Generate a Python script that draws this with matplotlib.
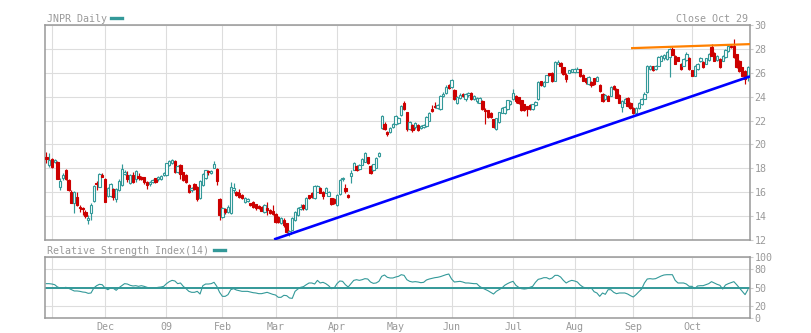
import matplotlib
matplotlib.use("Agg")
import matplotlib.pyplot as plt
from matplotlib.lines import Line2D
import numpy as np
import pandas as pd

# ---------------- data ----------------
holidays = ["2008-11-27", "2008-12-25", "2009-01-01", "2009-01-19", "2009-02-16",
            "2009-04-10", "2009-05-25", "2009-07-03", "2009-09-07"]
dates = pd.bdate_range("2008-10-30", "2009-10-29", freq="C", holidays=holidays)

opens = [
    18.98, 18.28, 18.78, 18.56, 18.56, 16.41, 17.16, 17.86, 17.02, 16.04,
    15.12, 15.57, 14.79, 14.71, 14.37, 13.67, 14.23, 15.29, 16.80, 16.46,
    17.44, 17.08, 15.68, 15.68, 16.24, 15.40, 16.18, 16.60, 17.52, 17.44,
    16.80, 17.44, 17.08, 17.36, 17.30, 17.25, 16.83, 16.66, 16.88, 17.16,
    17.08, 17.08, 17.44, 17.44, 18.28, 18.47, 18.64, 17.72, 18.28, 17.66,
    17.46, 16.60, 16.18, 16.66, 16.40, 15.50, 16.60, 17.20, 17.80, 17.60,
    18.05, 17.95, 15.45, 13.90, 14.60, 14.35, 14.25, 16.20, 16.00, 15.90,
    15.75, 15.20, 15.24, 15.07, 15.20, 15.00, 14.85, 14.79, 14.37, 14.65,
    14.51, 14.40, 14.18, 13.95, 13.45, 13.67, 13.39, 12.50, 12.85, 13.70,
    14.10, 14.60, 14.95, 14.60, 15.75, 15.90, 15.50, 16.05, 16.35, 16.05,
    15.95, 15.70, 15.50, 15.45, 14.96, 15.86, 17.07, 16.36, 15.80, 17.35,
    17.90, 18.20, 17.95, 18.30, 18.53, 18.93, 18.20, 17.86, 18.06, 19.00,
    21.35, 21.72, 21.07, 21.07, 21.44, 21.72, 21.80, 22.50, 23.46, 22.70,
    21.29, 21.63, 21.44, 21.63, 21.35, 21.44, 21.58, 22.00, 22.98, 23.26,
    23.04, 22.93, 24.05, 24.30, 24.95, 24.80, 24.53, 23.46, 23.88, 24.25,
    23.77, 24.10, 24.34, 23.83, 23.60, 23.50, 23.63, 22.88, 22.85, 22.65,
    22.09, 21.30, 21.85, 22.65, 22.65, 22.95, 23.35, 23.77, 24.06, 23.95,
    23.69, 23.35, 23.21, 23.27, 22.93, 23.27, 23.80, 25.30, 24.90, 25.24,
    25.95, 26.00, 25.35, 26.73, 26.83, 26.45, 25.83, 26.00, 26.10, 26.05,
    26.10, 26.28, 25.83, 25.54, 25.06, 25.20, 25.54, 25.34, 24.97, 24.20,
    23.79, 24.07, 24.07, 24.91, 24.63, 24.12, 23.14, 23.50, 23.93, 23.50,
    23.08, 22.66, 23.08, 23.36, 23.84, 24.35, 26.31, 26.54, 26.31, 26.60,
    27.02, 27.20, 27.16, 27.30, 28.00, 27.44, 27.30, 26.74, 26.60, 27.07,
    27.24, 26.20, 25.75, 26.31, 26.96, 26.88, 26.74, 27.10, 28.14, 27.65,
    27.05, 27.16, 27.02, 27.30, 27.80, 28.28, 28.28, 27.58, 27.02, 26.45,
    26.17, 25.61,
]
highs = [
    19.34, 19.25, 18.84, 18.78, 18.64, 17.16, 17.58, 17.91, 17.08, 16.18,
    16.13, 15.99, 14.93, 14.79, 14.51, 14.09, 15.07, 16.60, 16.97, 17.58,
    17.58, 17.16, 16.46, 16.80, 16.32, 16.32, 17.08, 18.36, 17.86, 17.80,
    17.52, 17.72, 17.86, 17.58, 17.36, 17.30, 16.97, 16.97, 17.10, 17.22,
    17.39, 17.44, 17.66, 18.47, 18.70, 18.78, 18.70, 18.28, 18.36, 17.72,
    17.50, 16.65, 16.46, 16.80, 16.50, 17.00, 17.60, 17.90, 17.90, 17.90,
    18.65, 18.00, 15.50, 14.80, 14.70, 14.90, 16.85, 16.75, 16.10, 16.30,
    15.85, 15.60, 15.50, 15.10, 15.25, 15.05, 14.90, 14.85, 15.00, 15.20,
    14.60, 14.90, 14.25, 14.00, 13.95, 13.85, 13.45, 12.85, 13.90, 14.45,
    14.80, 15.05, 15.05, 15.60, 15.80, 16.00, 16.60, 16.60, 16.45, 16.10,
    16.45, 16.10, 15.55, 15.50, 15.85, 17.10, 17.30, 16.65, 15.85, 17.90,
    18.50, 18.25, 18.40, 18.85, 19.35, 18.98, 18.25, 18.40, 18.95, 19.35,
    22.45, 21.90, 21.15, 21.45, 21.80, 22.50, 22.30, 23.30, 23.60, 22.75,
    21.95, 21.70, 21.90, 21.75, 21.65, 21.70, 22.35, 22.70, 23.30, 23.54,
    23.35, 24.10, 24.35, 24.95, 25.05, 25.46, 24.60, 24.05, 24.30, 24.30,
    24.30, 24.40, 24.40, 24.10, 24.00, 23.95, 23.70, 23.05, 22.90, 22.70,
    22.15, 22.25, 22.75, 23.10, 23.20, 23.75, 23.70, 24.65, 24.10, 24.00,
    23.75, 23.40, 23.25, 23.35, 23.40, 23.60, 25.35, 25.35, 25.30, 25.85,
    26.00, 26.05, 26.95, 27.05, 26.90, 26.50, 26.00, 26.25, 26.35, 26.40,
    26.45, 26.35, 25.90, 25.60, 25.70, 25.30, 25.60, 25.75, 25.05, 24.30,
    24.20, 24.15, 24.91, 25.00, 24.70, 24.20, 23.75, 23.85, 24.00, 23.55,
    23.15, 23.15, 23.55, 23.90, 24.35, 26.65, 26.65, 26.60, 26.65, 27.44,
    27.50, 27.60, 27.80, 28.10, 28.14, 27.50, 27.35, 26.80, 27.20, 27.72,
    27.30, 26.25, 26.65, 26.80, 27.30, 26.95, 27.25, 27.65, 28.42, 27.72,
    27.45, 27.20, 27.50, 28.00, 28.30, 28.35, 28.79, 27.60, 27.05, 26.50,
    26.20, 26.60,
]
lows = [
    18.42, 18.14, 18.00, 18.42, 17.08, 16.18, 17.02, 17.02, 16.13, 15.07,
    14.23, 14.87, 14.37, 14.09, 13.81, 13.31, 13.67, 15.21, 16.18, 16.41,
    17.25, 15.15, 15.63, 15.57, 15.35, 15.21, 16.13, 16.55, 17.44, 16.88,
    16.69, 16.80, 16.88, 17.02, 17.02, 16.69, 16.24, 16.55, 16.80, 16.80,
    16.97, 17.02, 17.36, 17.36, 18.20, 18.36, 17.63, 17.58, 17.08, 16.95,
    16.75, 15.95, 16.04, 16.20, 15.30, 15.45, 16.50, 17.10, 17.45, 17.50,
    18.00, 16.60, 13.70, 13.85, 14.20, 14.30, 14.15, 15.95, 15.70, 15.55,
    15.40, 15.10, 15.15, 14.85, 14.65, 14.55, 14.60, 14.40, 14.30, 14.10,
    14.15, 14.10, 13.40, 13.45, 13.35, 13.10, 12.60, 12.35, 12.80, 13.60,
    14.00, 14.55, 14.50, 14.50, 15.45, 15.50, 15.45, 16.00, 15.90, 15.40,
    15.90, 15.65, 14.95, 15.00, 14.82, 15.80, 16.95, 15.94, 15.55, 16.80,
    17.85, 17.80, 17.90, 18.25, 18.50, 18.35, 17.55, 17.80, 18.00, 18.95,
    21.30, 21.20, 20.67, 20.95, 21.35, 21.65, 21.75, 22.40, 22.90, 21.10,
    21.20, 21.00, 21.30, 21.10, 21.30, 21.35, 21.50, 21.95, 22.70, 23.05,
    22.95, 22.85, 24.00, 24.20, 24.60, 24.70, 23.70, 23.40, 23.80, 23.95,
    23.60, 24.00, 23.70, 23.75, 23.50, 23.45, 22.90, 21.68, 22.20, 22.20,
    21.40, 21.20, 21.80, 22.60, 22.55, 22.90, 23.30, 23.70, 23.50, 23.40,
    22.80, 22.80, 22.37, 22.85, 22.85, 23.20, 23.75, 24.90, 24.85, 25.20,
    25.75, 25.25, 25.30, 26.70, 25.95, 25.85, 25.25, 25.95, 26.05, 26.00,
    26.05, 25.65, 25.30, 25.10, 25.00, 24.77, 25.00, 25.30, 24.40, 23.55,
    23.70, 23.60, 24.05, 24.55, 23.90, 23.45, 22.75, 23.45, 23.15, 22.95,
    22.55, 22.55, 23.00, 23.30, 23.80, 24.30, 26.20, 26.15, 26.25, 26.55,
    26.95, 27.10, 27.10, 25.62, 27.45, 26.70, 26.95, 26.20, 26.55, 27.00,
    26.25, 25.70, 25.70, 26.25, 26.90, 26.40, 26.70, 27.00, 27.40, 26.95,
    27.00, 26.40, 26.95, 27.20, 27.70, 28.05, 27.25, 26.40, 26.10, 25.70,
    25.05, 25.33,
]
closes = [
    18.75, 18.70, 18.08, 18.70, 17.10, 16.94, 17.44, 17.10, 16.18, 15.12,
    16.04, 14.93, 14.65, 14.59, 14.01, 13.87, 14.93, 16.52, 16.66, 17.52,
    17.30, 15.21, 16.32, 16.69, 15.57, 16.24, 16.97, 17.91, 17.72, 17.08,
    17.44, 16.88, 17.78, 17.22, 17.08, 16.88, 16.60, 16.88, 17.02, 16.88,
    17.30, 17.39, 17.58, 18.42, 18.64, 18.70, 17.72, 18.20, 17.52, 17.04,
    16.85, 16.04, 16.32, 16.27, 15.40, 16.90, 17.55, 17.85, 17.70, 17.80,
    18.40, 16.90, 14.10, 14.65, 14.35, 14.80, 16.40, 16.35, 15.80, 15.60,
    15.50, 15.50, 15.40, 14.93, 14.74, 14.65, 14.65, 14.45, 14.93, 14.51,
    14.23, 14.15, 13.48, 13.53, 13.84, 13.25, 12.70, 12.75, 13.80, 14.35,
    14.65, 14.75, 14.65, 15.50, 15.50, 15.60, 16.50, 16.50, 15.95, 15.65,
    16.35, 16.00, 15.05, 15.10, 15.80, 17.01, 17.20, 16.08, 15.60, 17.63,
    18.42, 17.90, 18.30, 18.76, 19.27, 18.42, 17.63, 18.34, 18.90, 19.27,
    22.36, 21.29, 20.87, 21.35, 21.72, 22.36, 22.20, 23.20, 22.98, 21.29,
    21.86, 21.21, 21.80, 21.24, 21.58, 21.63, 22.28, 22.65, 22.76, 23.12,
    23.27, 24.05, 24.25, 24.85, 24.73, 25.38, 23.82, 23.97, 24.16, 24.05,
    24.20, 24.34, 23.77, 24.05, 23.92, 23.90, 22.99, 22.82, 22.31, 22.31,
    21.47, 22.20, 22.70, 23.07, 23.13, 23.69, 23.63, 24.34, 23.63, 23.50,
    22.87, 22.87, 22.93, 22.93, 23.35, 23.55, 25.20, 24.95, 25.20, 25.80,
    25.85, 25.30, 26.87, 26.93, 26.60, 25.90, 25.50, 26.20, 26.30, 26.30,
    26.35, 25.71, 25.34, 25.20, 25.63, 24.97, 25.06, 25.63, 24.48, 23.63,
    24.12, 23.65, 24.77, 24.63, 23.93, 23.50, 23.65, 23.79, 23.22, 23.03,
    22.66, 23.08, 23.50, 23.84, 24.26, 26.60, 26.60, 26.25, 26.60, 27.30,
    27.44, 27.50, 27.72, 28.00, 27.52, 26.74, 27.02, 26.31, 27.16, 27.58,
    26.30, 25.77, 26.60, 26.74, 27.24, 26.45, 27.20, 27.58, 27.44, 27.02,
    27.40, 26.45, 27.44, 27.90, 28.25, 28.14, 27.30, 26.45, 26.17, 25.75,
    25.47, 26.45,
]
rsi = [
    56.3, 56.3, 55.7, 54.6, 50.8, 49.2, 49.2, 50.3, 48.6, 46.4,
    44.3, 44.3, 43.7, 42.6, 42.1, 40.4, 41.0, 49.2, 53.0, 55.2,
    54.6, 49.2, 46.4, 49.2, 48.6, 45.4, 49.7, 53.0, 56.3, 55.7,
    53.6, 52.5, 53.0, 51.9, 53.0, 51.9, 50.3, 49.2, 49.2, 49.2,
    50.3, 50.8, 51.9, 56.3, 59.6, 61.7, 60.7, 56.3, 57.4, 51.9,
    48.1, 43.7, 42.1, 42.1, 43.7, 39.3, 53.0, 55.7, 55.7, 56.3,
    58.5, 51.9, 42.1, 35.5, 35.5, 38.3, 46.4, 48.1, 45.9, 44.8,
    43.7, 43.7, 43.7, 42.6, 41.5, 41.0, 39.9, 39.9, 41.0, 42.1,
    40.4, 38.8, 37.7, 33.9, 33.9, 37.2, 36.6, 32.8, 32.2, 43.7,
    47.5, 50.3, 51.4, 54.6, 57.4, 57.4, 55.7, 61.7, 57.4, 58.5,
    56.3, 53.0, 48.1, 49.2, 56.3, 60.7, 60.1, 54.6, 50.8, 56.3,
    61.7, 62.8, 61.7, 62.8, 64.5, 63.9, 59.0, 56.8, 57.4, 60.1,
    68.3, 70.5, 66.7, 65.6, 65.6, 67.2, 68.3, 71.0, 69.9, 62.8,
    60.1, 59.0, 59.6, 59.0, 57.9, 58.5, 62.3, 63.9, 65.0, 66.1,
    66.7, 67.8, 69.4, 71.0, 72.1, 63.9, 59.0, 59.6, 60.1, 59.0,
    57.4, 57.4, 56.8, 56.3, 56.3, 51.9, 49.2, 47.0, 44.8, 42.1,
    39.3, 43.7, 46.4, 49.2, 53.6, 56.3, 58.5, 60.1, 53.6, 50.3,
    48.1, 47.5, 48.1, 50.3, 51.9, 58.5, 63.4, 64.5, 66.1, 66.1,
    63.9, 65.6, 69.9, 69.9, 67.2, 61.7, 57.4, 60.1, 61.7, 60.7,
    59.0, 54.1, 50.8, 49.2, 48.1, 49.2, 43.1, 41.0, 35.5, 41.0,
    38.8, 46.4, 46.4, 42.1, 39.9, 41.0, 41.0, 41.0, 39.3, 36.6,
    34.4, 38.3, 43.1, 47.5, 57.4, 63.9, 64.5, 63.9, 64.5, 66.7,
    68.9, 70.5, 71.0, 71.0, 71.0, 61.7, 57.4, 57.4, 57.4, 55.7,
    51.9, 51.9, 48.1, 52.5, 53.0, 53.0, 54.6, 56.3, 59.6, 57.4,
    55.2, 53.6, 47.5, 54.1, 56.3, 57.9, 59.6, 54.6, 49.2, 43.7,
    38.3, 46.4,
]

# trend lines (trading-day index, price)
support_x = [81.5, 251.8]
support_y = [12.05, 25.70]
resist_x = [209.2, 251.8]
resist_y = [28.06, 28.40]

price_ticks = list(range(12, 31, 2))
rsi_ticks = [0, 20, 50, 80, 100]
title_text = "JNPR Daily"
close_text = "Close Oct 29"
rsi_title = "Relative Strength Index(14)"

# ---------------- style ----------------
TEAL = "#339999"
RED = "#cc0000"
GRID = "#dddddd"
FRAME = "#999999"
TXT = "#999999"
FONT = "DejaVu Sans Mono"
FS = 7.2

W, H = 812, 333
fig = plt.figure(figsize=(W / 100, H / 100), dpi=100)
fig.patch.set_facecolor("white")

def fx(px):
    return px / W

def fy(py):
    return 1 - py / H

ax = fig.add_axes([fx(45), fy(240), fx(705), 215 / H])
ax2 = fig.add_axes([fx(45), fy(318), fx(705), 61 / H])

o = np.array(opens); h = np.array(highs); l = np.array(lows); c = np.array(closes)
n = len(c)
x = np.arange(n)
up = c >= o
cols = np.where(up, TEAL, RED)

# month gridlines: first trading day of every new month in the window
month_idx = [i for i in range(1, n) if dates[i].month != dates[i - 1].month]
month_lbl = ["09" if dates[i].month == 1 else dates[i].strftime("%b") for i in month_idx]
month_lbl[0] = ""  # the November line carries no label in the original

xlim = (-0.47, 251.77)

for a in (ax, ax2):
    a.set_xlim(*xlim)
    a.set_xticks(month_idx)
    a.grid(True, color=GRID, lw=0.8, zorder=0)
    a.set_axisbelow(True)
    for s in a.spines.values():
        s.set_color(FRAME)
        s.set_linewidth(1.1)
    a.yaxis.tick_right()
    a.tick_params(axis="y", colors="#cccccc", labelcolor=TXT, length=2.2, width=0.8,
                  pad=1.0, labelsize=FS)
    a.tick_params(axis="x", length=0, labelcolor=TXT, labelsize=FS, pad=3)

# ----- price panel -----
ax.set_ylim(12, 30)
ax.set_yticks(price_ticks)
ax.set_yticklabels([str(t) for t in price_ticks], family=FONT)
ax.set_xticklabels([])

ax.vlines(x, l, h, colors=cols, lw=0.85, zorder=2)
body_lo = np.minimum(o, c)
body_h = np.maximum(np.abs(c - o), 0.04)
face = np.where(up, "white", RED)
ax.bar(x, body_h, bottom=body_lo, width=0.85, color=face, edgecolor=cols,
       linewidth=0.8, zorder=3)

ax.plot(support_x, support_y, color="#0000ff", lw=1.9, zorder=4, solid_capstyle="butt")
ax.plot(resist_x, resist_y, color="#ff8000", lw=1.6, zorder=4, solid_capstyle="butt")

# ----- RSI panel -----
ax2.set_ylim(0, 100)
ax2.set_yticks(rsi_ticks)
ax2.set_yticklabels([str(t) for t in rsi_ticks], family=FONT)
ax2.set_xticklabels(month_lbl, family=FONT)
ax2.axhline(50, color=TEAL, lw=1.4, zorder=2)
ax2.plot(x, rsi, color=TEAL, lw=0.8, zorder=3)

# ----- header texts -----
fig.text(fx(47), fy(18.5), title_text, family=FONT, fontsize=FS, color=TXT, va="center", ha="left")
fig.add_artist(Line2D([fx(111), fx(122)], [fy(18), fy(18)], color=TEAL, lw=2.4))
fig.text(fx(748), fy(19), close_text, family=FONT, fontsize=FS, color=TXT, va="center", ha="right")
fig.text(fx(47), fy(250.5), rsi_title, family=FONT, fontsize=FS, color=TXT, va="center", ha="left")
fig.add_artist(Line2D([fx(214), fx(225)], [fy(250), fy(250)], color=TEAL, lw=2.4))

fig.savefig("out.png", dpi=100, facecolor="white")
